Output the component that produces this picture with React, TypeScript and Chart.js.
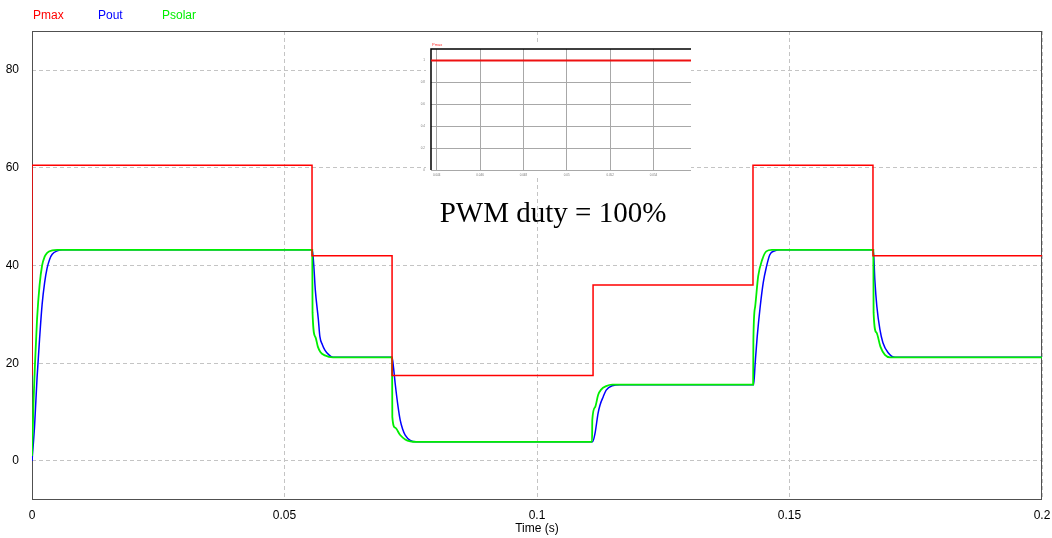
import { useEffect, useRef } from "react";
import { Chart, registerables } from "chart.js";
Chart.register(...registerables);

// ---- main chart data ----
const pmaxT = [0, 0, 0.05545, 0.05545, 0.0713, 0.0713, 0.1111, 0.1111, 0.14277, 0.14277, 0.16653, 0.16653, 0.2];
const pmaxV = [17.5, 60.5, 60.5, 42, 42, 17.5, 17.5, 36, 36, 60.5, 60.5, 42, 42];

const poutT = [
  0, 0.0005, 0.001, 0.0015, 0.002, 0.0025, 0.003, 0.0035, 0.004, 0.005, 0.006,
  0.0555, 0.0558, 0.0561, 0.0567, 0.057, 0.0575, 0.058, 0.0588, 0.0596,
  0.0713, 0.0716, 0.0719, 0.0725, 0.0729, 0.0734, 0.0739, 0.0749, 0.076,
  0.111, 0.1115, 0.1121, 0.1125, 0.1131, 0.1137, 0.1149, 0.1165,
  0.1429, 0.1432, 0.1436, 0.1442, 0.1448, 0.1454, 0.1461, 0.1471, 0.1481,
  0.1666, 0.1669, 0.1673, 0.1679, 0.1685, 0.1695, 0.1709, 0.2,
];
const poutV = [
  0, 7, 17, 25, 32, 36.5, 39.5, 41.3, 42.3, 43, 43.2,
  43.2, 40, 35, 29, 25.5, 23.8, 22.7, 21.7, 21.2,
  21.2, 19, 16, 11, 8.4, 6.5, 5.3, 4.2, 3.9,
  3.9, 5.7, 9.8, 11.5, 13.1, 14.5, 15.4, 15.6,
  15.6, 20, 25.4, 31.6, 36.5, 39.6, 42.2, 43, 43.2,
  43.2, 37, 31.6, 26.9, 24.2, 22.2, 21.2, 21.2,
];

const psolarT = [
  0, 0.0003, 0.0006, 0.001, 0.0015, 0.002, 0.0025, 0.003, 0.004, 0.005,
  0.0555, 0.05555, 0.0561, 0.0566, 0.0571, 0.058, 0.0596,
  0.0713, 0.07135, 0.0719, 0.0729, 0.0739, 0.0749, 0.0762,
  0.1109, 0.11095, 0.1115, 0.1121, 0.1127, 0.1137, 0.1149,
  0.1428, 0.14285, 0.1432, 0.1438, 0.1446, 0.1454, 0.1465,
  0.1666, 0.16665, 0.1672, 0.168, 0.1689, 0.1699, 0.2,
];
const psolarV = [
  1, 12, 20, 29, 36, 40, 41.8, 42.6, 43.1, 43.2,
  43.2, 30.4, 25.4, 23.4, 22.3, 21.6, 21.2,
  21.2, 9, 6.8, 5.3, 4.4, 4.0, 3.9,
  3.9, 8.4, 11, 13.5, 14.6, 15.3, 15.6,
  15.6, 24.8, 31.6, 37.8, 41.2, 42.9, 43.2,
  43.2, 30.4, 26.3, 23.4, 21.7, 21.2, 21.2,
];

const xTicks = [0, 0.05, 0.1, 0.15, 0.2];
const yTicks = [0, 20, 40, 60, 80];

// ---- inset chart data ----
const insetT = [0.043737, 0.05573];
const insetV = [1, 1];
const insetXTicks = [0.044, 0.046, 0.048, 0.05, 0.052, 0.054];
const insetYTicks = [0, 0.2, 0.4, 0.6, 0.8, 1];

const pts = (t: number[], v: number[]) => t.map((x, i) => ({ x, y: v[i] }));

const SANS = "'Liberation Sans', Arial, sans-serif";

export default function App() {
  const mainRef = useRef<HTMLCanvasElement>(null);
  const insetRef = useRef<HTMLCanvasElement>(null);

  useEffect(() => {
    const framePlugin = {
      id: "frame",
      beforeDatasetsDraw(chart: any) {
        const { ctx, chartArea: a } = chart;
        ctx.save();
        ctx.strokeStyle = "#505050";
        ctx.lineWidth = 1;
        ctx.strokeRect(a.left + 0.5, a.top + 0.5, a.right - a.left - 1, a.bottom - a.top - 1);
        ctx.restore();
      },
    };
    const main = new Chart(mainRef.current!, {
      type: "line",
      data: {
        datasets: [
          { label: "Pmax", data: pts(pmaxT, pmaxV), borderColor: "#ff0000", borderWidth: 1.5, pointRadius: 0, tension: 0, order: 0 },
          { label: "Pout", data: pts(poutT, poutV), borderColor: "#0000ff", borderWidth: 1.5, pointRadius: 0, cubicInterpolationMode: "monotone", order: 2 },
          { label: "Psolar", data: pts(psolarT, psolarV), borderColor: "#00ee00", borderWidth: 1.8, pointRadius: 0, cubicInterpolationMode: "monotone", order: 1 },
        ],
      },
      options: {
        animation: false,
        responsive: false,
        maintainAspectRatio: false,
        layout: { padding: { top: 31, right: 10, left: 0, bottom: 0 } },
        plugins: { legend: { display: false }, tooltip: { enabled: false } },
        scales: {
          x: {
            type: "linear",
            min: 0,
            max: 0.2,
            afterBuildTicks: (s: any) => { s.ticks = xTicks.map((v) => ({ value: v })); },
            afterFit: (s: any) => { s.height = 38; s.paddingLeft = 0; s.paddingRight = 0; },
            ticks: { color: "#000", font: { family: SANS, size: 12 }, padding: 8, maxRotation: 0, callback: (v: any) => String(v) },
            grid: { color: "#c4c4c4", drawTicks: false, lineWidth: 1 },
            border: { display: false, dash: [4, 3] },
            title: { display: true, text: "Time (s)", color: "#000", font: { family: SANS, size: 12 }, padding: { top: 0, bottom: 2 } },
          },
          y: {
            min: -8,
            max: 88,
            afterBuildTicks: (s: any) => { s.ticks = yTicks.map((v) => ({ value: v })); },
            afterFit: (s: any) => { s.width = 32; s.paddingTop = 0; s.paddingBottom = 0; },
            ticks: { color: "#000", font: { family: SANS, size: 12 }, padding: 13, callback: (v: any) => String(v) },
            grid: { color: "#c4c4c4", drawTicks: false, lineWidth: 1 },
            border: { display: false, dash: [4, 3] },
          },
        },
      },
      plugins: [framePlugin],
    } as any);

    const insetPlugin = {
      id: "insetbg",
      beforeDraw(chart: any) {
        const { ctx } = chart;
        ctx.save();
        ctx.fillStyle = "#ffffff";
        ctx.fillRect(6, 3, 265, 132);
        ctx.restore();
      },
      beforeDatasetsDraw(chart: any) {
        const { ctx, chartArea: a } = chart;
        ctx.save();
        ctx.strokeStyle = "#000";
        ctx.lineWidth = 1.5;
        ctx.beginPath();
        ctx.moveTo(a.left, a.bottom);
        ctx.lineTo(a.left, a.top);
        ctx.lineTo(a.right, a.top);
        ctx.stroke();
        ctx.fillStyle = "#ff3030";
        ctx.font = "4px " + SANS;
        ctx.fillText("Pmax", a.left + 1, a.top - 3);
        ctx.restore();
      },
    };
    const inset = new Chart(insetRef.current!, {
      type: "line",
      data: {
        datasets: [
          { label: "Pmax", data: pts(insetT, insetV), borderColor: "#ee1010", borderWidth: 2, pointRadius: 0, tension: 0 },
        ],
      },
      options: {
        animation: false,
        responsive: false,
        maintainAspectRatio: false,
        layout: { padding: { top: 9, right: 5, left: 0, bottom: 0 } },
        plugins: { legend: { display: false }, tooltip: { enabled: false } },
        scales: {
          x: {
            type: "linear",
            min: 0.043737,
            max: 0.05573,
            afterBuildTicks: (s: any) => { s.ticks = insetXTicks.map((v) => ({ value: v })); },
            afterFit: (s: any) => { s.height = 10; s.paddingLeft = 0; s.paddingRight = 0; },
            ticks: { color: "#777", font: { family: SANS, size: 3 }, padding: 3, maxRotation: 0, callback: (v: any) => String(v) },
            grid: { color: "#a8a8a8", drawTicks: false, lineWidth: 1 },
            border: { display: false },
          },
          y: {
            min: 0,
            max: 1.105,
            afterBuildTicks: (s: any) => { s.ticks = insetYTicks.map((v) => ({ value: v })); },
            afterFit: (s: any) => { s.width = 11; s.paddingTop = 0; s.paddingBottom = 0; },
            ticks: { color: "#777", font: { family: SANS, size: 3 }, padding: 6, callback: (v: any) => String(v) },
            grid: { color: "#a8a8a8", drawTicks: false, lineWidth: 1 },
            border: { display: false },
          },
        },
      },
      plugins: [insetPlugin],
    } as any);

    return () => {
      main.destroy();
      inset.destroy();
    };
  }, []);

  const legendStyle = (left: number, color: string) => ({
    position: "absolute" as const,
    left,
    top: 8,
    color,
    fontFamily: SANS,
    fontSize: 12,
    lineHeight: "14px",
    whiteSpace: "nowrap" as const,
  });

  return (
    <div style={{ position: "absolute", left: 0, top: 0, width: 1052, height: 538, background: "#fff", overflow: "hidden" }}>
      <canvas ref={mainRef} width={1052} height={538} style={{ position: "absolute", left: 0, top: 0, width: 1052, height: 538 }} />
      <canvas ref={insetRef} width={276} height={140} style={{ position: "absolute", left: 420, top: 40, width: 276, height: 140 }} />
      <span style={legendStyle(33, "#ff0000")}>Pmax</span>
      <span style={legendStyle(98, "#0000ff")}>Pout</span>
      <span style={legendStyle(162, "#00ee00")}>Psolar</span>
      <div
        style={{
          position: "absolute",
          left: 353,
          width: 400,
          top: 198,
          textAlign: "center",
          fontFamily: "'Liberation Serif', 'Times New Roman', serif",
          fontSize: 29,
          lineHeight: "29px",
          color: "#000",
          whiteSpace: "nowrap",
        }}
      >
        PWM duty = 100%
      </div>
    </div>
  );
}
